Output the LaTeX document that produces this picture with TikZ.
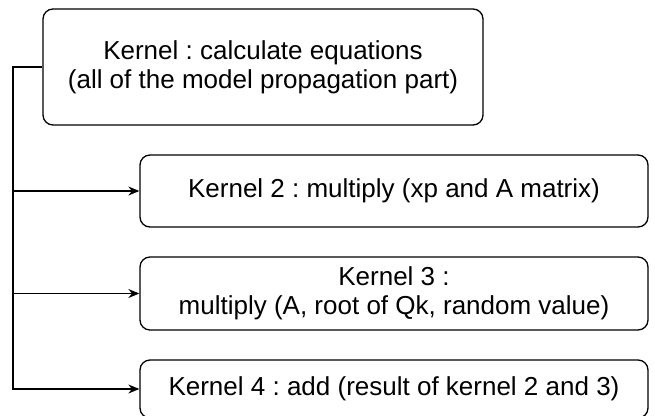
\documentclass[tikz,border=0pt]{standalone}
\usepackage{fontspec}
\setmainfont{Liberation Sans}
\usetikzlibrary{arrows.meta}
\frenchspacing
\begin{document}
\begin{tikzpicture}[x=1pt,y=-1pt,
  box/.style={draw=black, line width=1.3pt, rounded corners=10pt, align=center,
    inner sep=0pt, font=\fontsize{26}{29}\selectfont\frenchspacing, text=black},
  conn/.style={draw=black, line width=1.3pt},
  arr/.style={conn, -{Stealth[length=11pt,width=9pt]}}]
\useasboundingbox (0,0) rectangle (655,415);
\clip (0,0) rectangle (655,415);
\node[box, minimum width=440pt, minimum height=116pt] (top) at (263,67)
  {Kernel : calculate equations\\(all of the model propagation part)};
\node[box, minimum width=508pt, minimum height=72pt] (k2) at (394,191)
  {Kernel 2 : multiply (xp and A matrix)};
\node[box, minimum width=508pt, minimum height=73pt] (k3) at (394,293.5)
  {Kernel 3 :\\multiply (A, root of Qk, random value)};
\node[box, minimum width=508pt, minimum height=58pt] (k4) at (394,389)
  {Kernel 4 : add (result of kernel 2 and 3)};
\coordinate (c2) at (13,191);
\coordinate (c3) at (13,293.5);
\draw[arr] (top.west) -- (13,67) |- (k4.west);
\draw[arr] (c2) -- (k2.west);
\draw[arr] (c3) -- (k3.west);
\end{tikzpicture}
\end{document}
